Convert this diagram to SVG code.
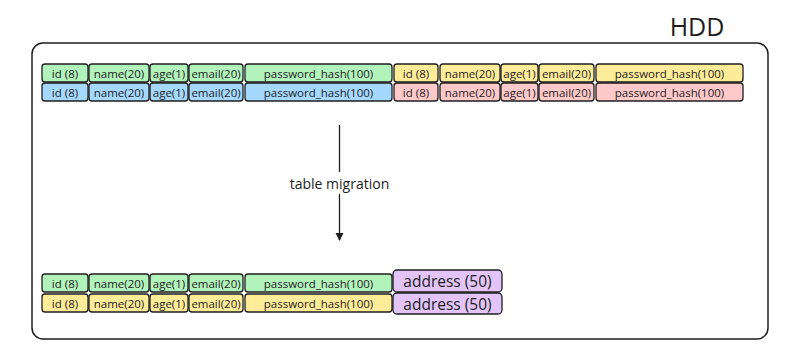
<svg xmlns="http://www.w3.org/2000/svg" width="800" height="348" viewBox="0 0 800 348">
<style>
.c{stroke:#1e1e1e;stroke-width:1.3}
.g{fill:#b2f2bb}.b{fill:#a5d8ff}.y{fill:#ffec99}.r{fill:#ffc9c9}.p{fill:#e2c4f8}
text{font-family:"Open Sans","Liberation Sans",sans-serif;fill:#1e1e1e;text-anchor:middle;dominant-baseline:central}
.t{font-size:11.5px}
.a{font-size:15.5px}
</style>
<defs>
<marker id="ah" markerWidth="10" markerHeight="10" refX="8" refY="5" orient="auto" markerUnits="userSpaceOnUse">
<path d="M1,1 L9,5 L1,9 Z" fill="#1e1e1e"/>
</marker>
</defs>
<rect width="800" height="348" fill="#ffffff"/>
<g id="hdd">
<rect x="32" y="43" width="736" height="296" rx="11" fill="none" stroke="#1e1e1e" stroke-width="1.5"/>
<text x="697" y="26" style="font-size:25px">HDD</text>
</g>
<g id="row1">
<rect class="c g" x="42" y="64" width="46" height="18" rx="3"/><text class="t" x="65" y="73">id (8)</text>
<rect class="c g" x="89" y="64" width="60" height="18" rx="3"/><text class="t" x="119" y="73">name(20)</text>
<rect class="c g" x="150" y="64" width="38" height="18" rx="3"/><text class="t" x="169" y="73">age(1)</text>
<rect class="c g" x="189" y="64" width="54" height="18" rx="3"/><text class="t" x="216" y="73">email(20)</text>
<rect class="c g" x="245" y="64" width="147" height="18" rx="3"/><text class="t" x="318.5" y="73">password_hash(100)</text>
<rect class="c y" x="394" y="64" width="44" height="18" rx="3"/><text class="t" x="416" y="73">id (8)</text>
<rect class="c y" x="440" y="64" width="60" height="18" rx="3"/><text class="t" x="470" y="73">name(20)</text>
<rect class="c y" x="501" y="64" width="37" height="18" rx="3"/><text class="t" x="519.5" y="73">age(1)</text>
<rect class="c y" x="539" y="64" width="55" height="18" rx="3"/><text class="t" x="566.5" y="73">email(20)</text>
<rect class="c y" x="596" y="64" width="147" height="18" rx="3"/><text class="t" x="669.5" y="73">password_hash(100)</text>
</g>
<g id="row2">
<rect class="c b" x="42" y="83" width="46" height="18" rx="3"/><text class="t" x="65" y="92">id (8)</text>
<rect class="c b" x="89" y="83" width="60" height="18" rx="3"/><text class="t" x="119" y="92">name(20)</text>
<rect class="c b" x="150" y="83" width="38" height="18" rx="3"/><text class="t" x="169" y="92">age(1)</text>
<rect class="c b" x="189" y="83" width="54" height="18" rx="3"/><text class="t" x="216" y="92">email(20)</text>
<rect class="c b" x="245" y="83" width="147" height="18" rx="3"/><text class="t" x="318.5" y="92">password_hash(100)</text>
<rect class="c r" x="394" y="83" width="44" height="18" rx="3"/><text class="t" x="416" y="92">id (8)</text>
<rect class="c r" x="440" y="83" width="60" height="18" rx="3"/><text class="t" x="470" y="92">name(20)</text>
<rect class="c r" x="501" y="83" width="37" height="18" rx="3"/><text class="t" x="519.5" y="92">age(1)</text>
<rect class="c r" x="539" y="83" width="55" height="18" rx="3"/><text class="t" x="566.5" y="92">email(20)</text>
<rect class="c r" x="596" y="83" width="147" height="18" rx="3"/><text class="t" x="669.5" y="92">password_hash(100)</text>
</g>
<g id="row3">
<rect class="c g" x="42" y="274" width="46" height="18" rx="3"/><text class="t" x="65" y="283">id (8)</text>
<rect class="c g" x="89" y="274" width="60" height="18" rx="3"/><text class="t" x="119" y="283">name(20)</text>
<rect class="c g" x="150" y="274" width="38" height="18" rx="3"/><text class="t" x="169" y="283">age(1)</text>
<rect class="c g" x="189" y="274" width="54" height="18" rx="3"/><text class="t" x="216" y="283">email(20)</text>
<rect class="c g" x="245" y="274" width="147" height="18" rx="3"/><text class="t" x="318.5" y="283">password_hash(100)</text>
<rect class="c p" x="393" y="270" width="109" height="22" rx="4"/><text class="a" x="447.5" y="281">address (50)</text>
</g>
<g id="row4">
<rect class="c y" x="42" y="294" width="46" height="18" rx="3"/><text class="t" x="65" y="303">id (8)</text>
<rect class="c y" x="89" y="294" width="60" height="18" rx="3"/><text class="t" x="119" y="303">name(20)</text>
<rect class="c y" x="150" y="294" width="38" height="18" rx="3"/><text class="t" x="169" y="303">age(1)</text>
<rect class="c y" x="189" y="294" width="54" height="18" rx="3"/><text class="t" x="216" y="303">email(20)</text>
<rect class="c y" x="245" y="294" width="147" height="18" rx="3"/><text class="t" x="318.5" y="303">password_hash(100)</text>
<rect class="c p" x="393" y="293" width="109" height="21" rx="4"/><text class="a" x="447.5" y="303.5">address (50)</text>
</g>
<g id="connectors">
<line x1="339.5" y1="125" x2="339.5" y2="172" stroke="#1e1e1e" stroke-width="1.3"/>
<line x1="339.5" y1="194" x2="339.5" y2="240" stroke="#1e1e1e" stroke-width="1.3" marker-end="url(#ah)"/>
<text x="339.5" y="183" style="font-size:14px">table migration</text>
</g>
</svg>
